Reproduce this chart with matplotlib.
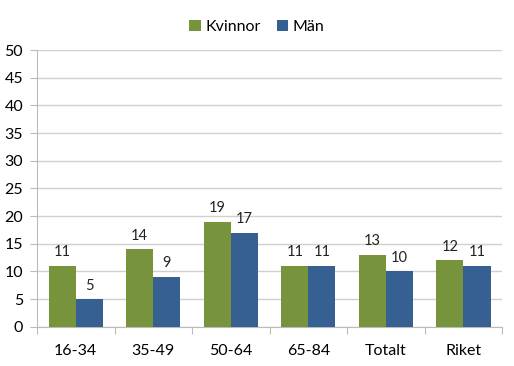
import numpy as np
import matplotlib.pyplot as plt

plt.rcParams['font.family'] = ['Lato', 'DejaVu Sans']

# data
kategorier = ["16-34", "35-49", "50-64", "65-84", "Totalt", "Riket"]
kvinnor = [11, 14, 19, 11, 13, 12]
man = [5, 9, 17, 11, 10, 11]

green = '#77933C'
blue = '#376092'

fig = plt.figure(figsize=(5.14, 3.66), dpi=100)
ax = fig.add_axes([0.072, 0.107, 0.905, 0.756])

x = np.arange(len(kategorier))
w = 0.35
b1 = ax.bar(x - w/2, kvinnor, w, color=green, label='Kvinnor', zorder=3)
b2 = ax.bar(x + w/2, man, w, color=blue, label='Män', zorder=3)

for bars in (b1, b2):
    for r in bars:
        ax.text(r.get_x() + r.get_width()/2, r.get_height() + 1.2, f"{int(r.get_height())}",
                ha='center', va='bottom', fontsize=10.5, color='#222222')

ax.set_ylim(0, 50)
ax.set_yticks(range(0, 51, 5))
ax.set_xlim(-0.5, len(kategorier) - 0.5)
ax.yaxis.grid(True, color='#d0d0d0', linewidth=1, zorder=0)

# category labels between boundary tick marks
ax.set_xticks(np.arange(-0.5, len(kategorier), 1))
ax.set_xticklabels([])
ax.set_xticks(x, minor=True)
ax.set_xticklabels(kategorier, minor=True)
ax.tick_params(axis='x', which='minor', length=0, pad=12, labelsize=11.5)
ax.tick_params(axis='x', which='major', length=5, color='#bbbbbb', direction='out')
ax.tick_params(axis='y', length=5, color='#bbbbbb', labelsize=11.5, pad=5)

for s in ['top', 'right']:
    ax.spines[s].set_visible(False)
ax.spines['left'].set_color('#bbbbbb')
ax.spines['bottom'].set_color('#bbbbbb')

fig.legend(handles=[b1, b2], loc='upper center', bbox_to_anchor=(0.5, 0.985), ncol=2,
           frameon=False, fontsize=11.5, handlelength=0.7, handleheight=0.7,
           handletextpad=0.3, columnspacing=1.0)

fig.savefig('out.png', dpi=100)
